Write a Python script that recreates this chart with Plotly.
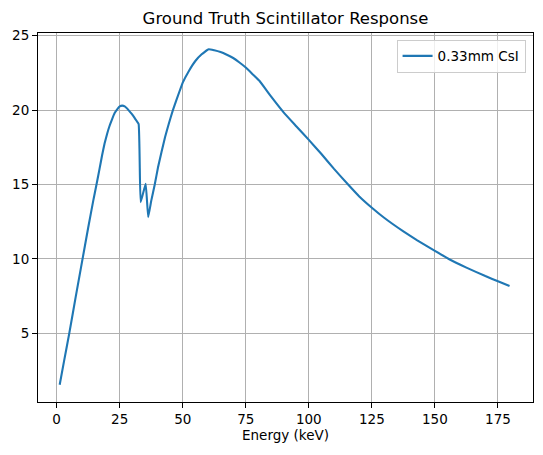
import plotly.graph_objects as go

# Data
energy_kev = [1.2, 3.0, 5.0, 7.5, 10.0, 12.5, 14.5, 15.8, 17.0, 18.0, 19.0, 20.0, 21.0,
              22.0, 23.0, 24.0, 25.0, 26.0, 27.0, 28.0, 29.0, 30.0, 31.0, 32.5, 33.3,
              35.3, 36.3, 37.5, 38.9, 40.2, 43.0, 44.5, 46.1, 48.8, 50.0, 52.5, 55.0,
              57.5, 60.3, 62.5, 65.0, 67.5, 70.0, 72.5, 75.0, 77.5, 80.4, 85.0, 90.0,
              95.0, 100.0, 105.0, 110.0, 115.3, 120.0, 125.0, 130.0, 137.5, 143.0,
              150.0, 155.5, 162.5, 170.0, 175.0, 179.6]
response = [1.55, 3.2, 5.0, 7.4, 9.75, 12.1, 13.9, 15.0, 16.05, 16.95, 17.75, 18.4, 18.95,
            19.4, 19.8, 20.05, 20.25, 20.3, 20.25, 20.1, 19.9, 19.7, 19.45, 19.07, 13.82,
            15.05, 12.8, 13.9, 15.0, 16.16, 18.2, 19.1, 20.0, 21.3, 21.85, 22.65, 23.3,
            23.75, 24.09, 24.02, 23.9, 23.72, 23.5, 23.2, 22.86, 22.45, 21.97, 20.92, 19.85,
            18.92, 18.0, 17.05, 16.05, 15.05, 14.2, 13.44, 12.75, 11.85, 11.25,
            10.54, 10.0, 9.42, 8.85, 8.5, 8.19]
series_name = "0.33mm CsI"
title_text = "Ground Truth Scintillator Response"
x_label = "Energy (keV)"
x_ticks = [0, 25, 50, 75, 100, 125, 150, 175]
y_ticks = [5, 10, 15, 20, 25]

fig = go.Figure()
fig.add_trace(go.Scatter(
    x=energy_kev, y=response, mode="lines", name=series_name,
    line=dict(color="#1f77b4", width=2.1, shape="spline", smoothing=0.3),
))

font_family = "DejaVu Sans"
axis_common = dict(
    showline=True, linecolor="black", linewidth=1.1, mirror=True,
    ticks="outside", ticklen=5, tickwidth=1.1, tickcolor="black",
    showgrid=True, gridcolor="#b0b0b0", gridwidth=1.1, automargin=False,
    zeroline=False, tickfont=dict(family=font_family, size=13.5, color="black"),
)

fig.update_layout(
    width=543, height=455,
    margin=dict(l=37.5, r=9.7, t=32.5, b=53),
    paper_bgcolor="white", plot_bgcolor="white",
    font=dict(family=font_family, color="black"),
    title=dict(text=title_text, x=0.5, xref="paper", xanchor="center",
               y=1 - 18 / 455, yref="container", yanchor="middle",
               font=dict(family=font_family, size=16.5, color="black")),
    xaxis=dict(range=[-7.4, 188.9], tickvals=x_ticks,
               title=dict(text=x_label, standoff=4,
                          font=dict(family=font_family, size=13.5, color="black")),
               **axis_common),
    yaxis=dict(range=[0.39, 25.18], tickvals=y_ticks, **axis_common),
    showlegend=True,
    legend=dict(x=0.985, xanchor="right", y=0.982, yanchor="top",
                bgcolor="rgba(255,255,255,0.8)", bordercolor="#cccccc", borderwidth=1,
                font=dict(family=font_family, size=13.5, color="black")),
)

fig.write_html("out.html",
               config={"displayModeBar": False},
               post_script="document.body.style.margin='0';document.body.style.padding='0';")
